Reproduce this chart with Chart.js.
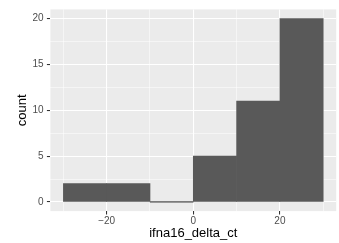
<!DOCTYPE html>
<html>
<head>
<meta charset="utf-8">
<script src="https://cdn.jsdelivr.net/npm/chart.js@4.4.1/dist/chart.umd.min.js"></script>
<style>
html,body{margin:0;padding:0;background:#fff;}
#wrap{width:339px;height:243px;position:relative;}
</style>
</head>
<body>
<div id="wrap"><canvas id="c" width="339" height="243"></canvas></div>
<script>
// Histogram bins (bin centers) and counts
const binCenters = [-25, -15, -5, 5, 15, 25];
const binWidth = 10;
const counts = [2, 2, 0, 5, 11, 20];
const xTicks = [-30, -20, -10, 0, 10, 20, 30];
const yTicks = [0, 2.5, 5, 7.5, 10, 12.5, 15, 17.5, 20];
const xTitle = 'ifna16_delta_ct';
const yTitle = 'count';

const barData = binCenters.map((c, i) => ({x: c, y: counts[i]}));
// zero-count bins drawn as a flat line at 0, as ggplot does
const zeroData = [];
binCenters.forEach((c, i) => {
  if (counts[i] === 0) {
    zeroData.push({x: c - binWidth / 2, y: 0});
    zeroData.push({x: c + binWidth / 2, y: 0});
    zeroData.push({x: null, y: null});
  }
});

const panelBg = {
  id: 'panelBg',
  beforeDraw(chart) {
    const {ctx, chartArea: a} = chart;
    ctx.save();
    ctx.fillStyle = '#ffffff';
    ctx.fillRect(0, 0, chart.width, chart.height);
    ctx.fillStyle = '#EBEBEB';
    ctx.fillRect(a.left, a.top, a.right - a.left, a.bottom - a.top);
    ctx.restore();
  }
};

const font = 'Liberation Sans, Arial, Helvetica, sans-serif';
const minus = v => (v < 0 ? '\u2212' + Math.abs(v) : String(v));

new Chart(document.getElementById('c'), {
  type: 'bar',
  data: {
    datasets: [
      {
        type: 'bar',
        data: barData,
        backgroundColor: '#595959',
        borderWidth: 0,
        barPercentage: 1,
        categoryPercentage: 1,
        order: 2
      },
      {
        type: 'line',
        data: zeroData,
        borderColor: '#595959',
        borderWidth: 1,
        pointRadius: 0,
        spanGaps: false,
        fill: false,
        order: 1
      }
    ]
  },
  options: {
    responsive: false,
    animation: false,
    devicePixelRatio: 1,
    layout: {padding: {top: 3.9, right: 2.8, left: 0, bottom: 0}},
    plugins: {legend: {display: false}, tooltip: {enabled: false}},
    scales: {
      x: {
        type: 'linear',
        offset: false,
        min: -33,
        max: 33,
        afterBuildTicks: s => { s.ticks = xTicks.map(v => ({value: v})); },
        afterFit: s => { s.height = 31.9; },
        border: {display: false},
        grid: {
          offset: false,
          color: '#ffffff',
          lineWidth: c => (c.tick && c.tick.value % 20 === 0 ? 1.07 : 0.53),
          tickColor: c => (c.tick && c.tick.value % 20 === 0 ? '#333333' : 'rgba(0,0,0,0)'),
          tickWidth: 1.07,
          tickLength: 3.5,
          drawTicks: true
        },
        ticks: {
          autoSkip: false,
          maxRotation: 0,
          padding: 0.8,
          color: '#4D4D4D',
          font: {family: font, size: 10},
          callback: v => (v % 20 === 0 ? minus(v) : '')
        },
        title: {
          display: true,
          text: xTitle,
          color: '#000000',
          font: {family: font, size: 13},
          padding: {top: 0, bottom: 1.5}
        }
      },
      y: {
        type: 'linear',
        min: -1,
        max: 21,
        afterBuildTicks: s => { s.ticks = yTicks.map(v => ({value: v})); },
        afterFit: s => { s.width = 50.4; },
        border: {display: false},
        grid: {
          color: '#ffffff',
          lineWidth: c => (c.tick && c.tick.value % 5 === 0 ? 1.07 : 0.53),
          tickColor: c => (c.tick && c.tick.value % 5 === 0 ? '#333333' : 'rgba(0,0,0,0)'),
          tickWidth: 1.07,
          tickLength: 3.5,
          drawTicks: true
        },
        ticks: {
          autoSkip: false,
          padding: 3.4,
          color: '#4D4D4D',
          font: {family: font, size: 10},
          callback: v => (v % 5 === 0 ? String(v) : '')
        },
        title: {
          display: true,
          text: yTitle,
          color: '#000000',
          font: {family: font, size: 13},
          padding: {top: 15, bottom: 0}
        }
      }
    }
  },
  plugins: [panelBg]
});
</script>
</body>
</html>
